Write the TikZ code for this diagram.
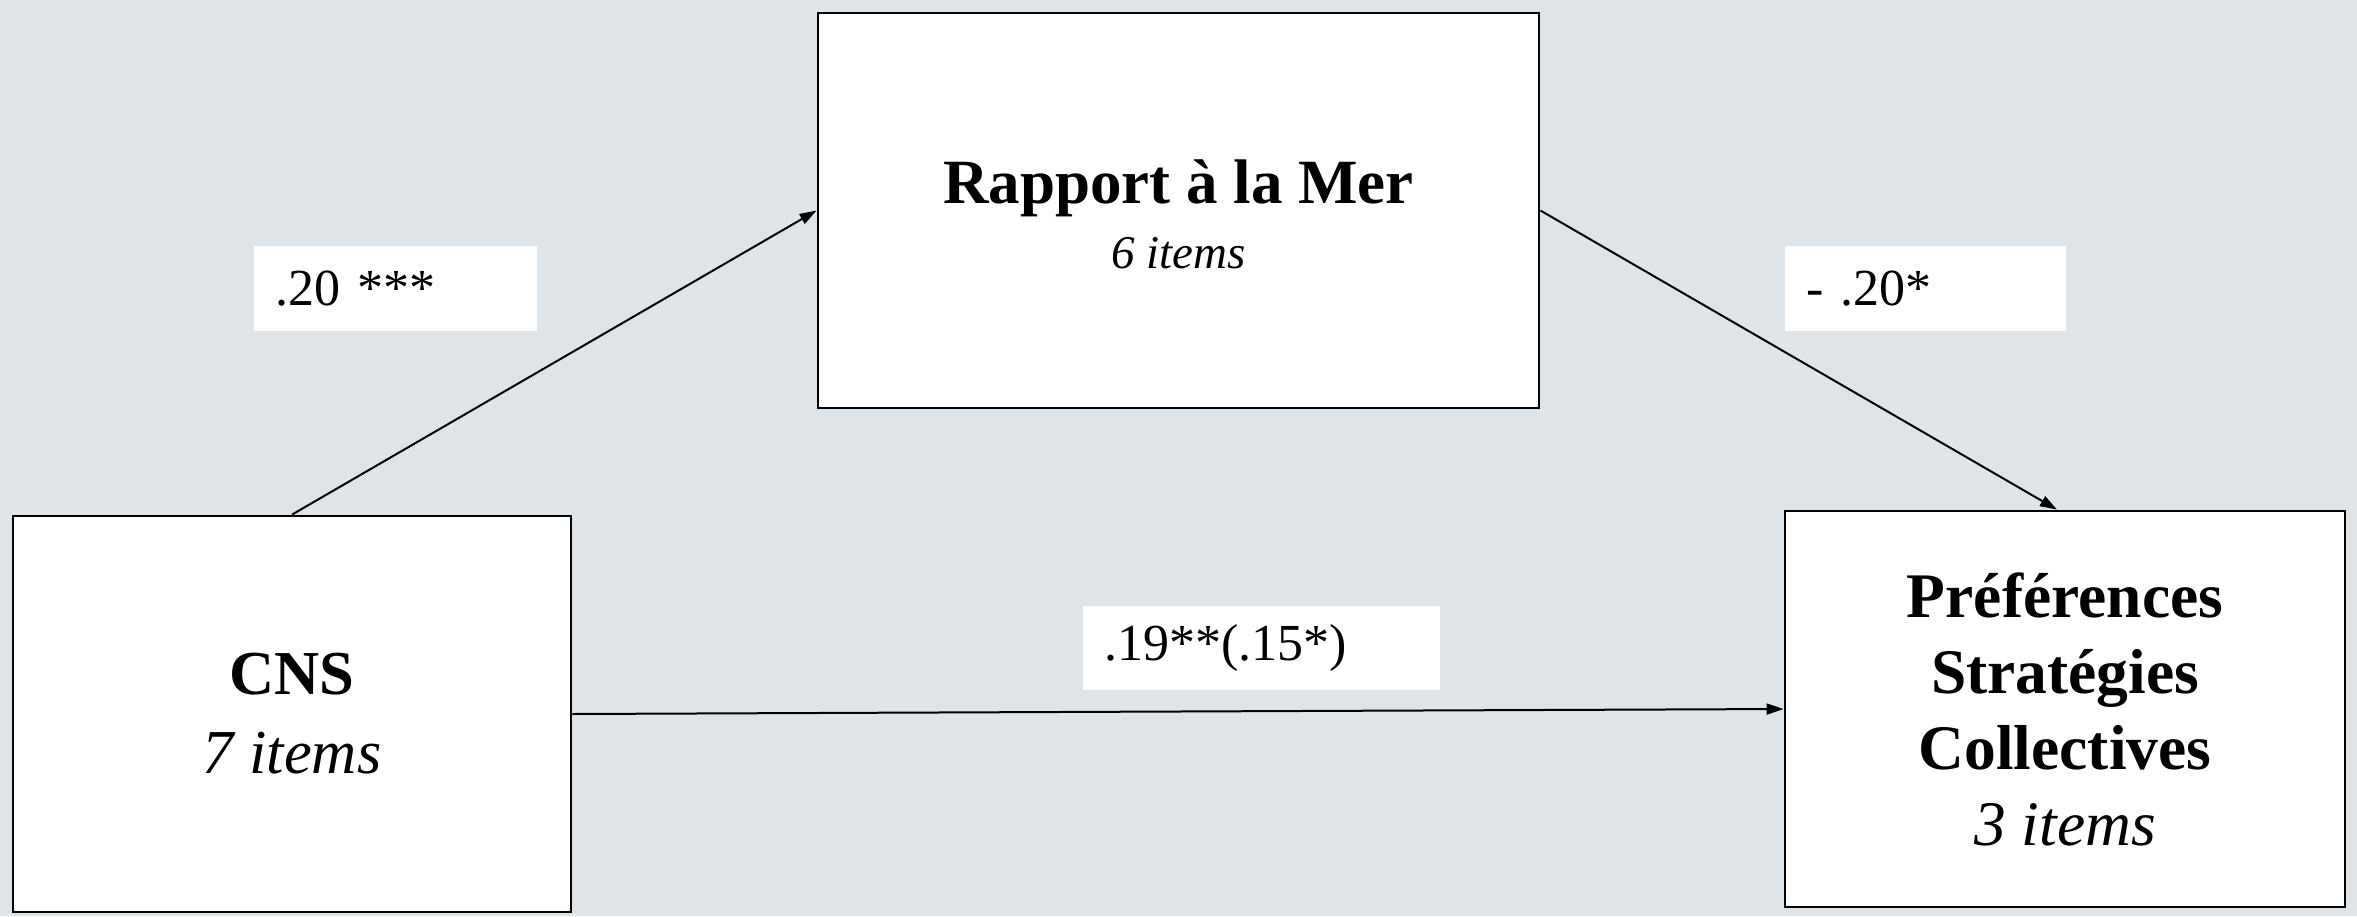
\documentclass[tikz,border=0pt]{standalone}
\usepackage{fontspec}
\setmainfont{Liberation Serif}
\usetikzlibrary{arrows.meta}
\definecolor{bg}{RGB}{223,228,232}
\begin{document}
\begin{tikzpicture}[x=1pt,y=-1pt,
  box/.style={draw=black, line width=2.8pt, fill=white, inner sep=0pt, align=center},
  lab/.style={fill=white, inner xsep=21pt, inner ysep=0pt, align=left, font=\fontsize{52}{60}\selectfont},
  arr/.style={line width=2pt, -{Triangle[length=17pt,width=11pt]}},
]
\fill[bg] (0,0) rectangle (2357,916);
\useasboundingbox (0,0) rectangle (2357,916);

\node[box, minimum width=721pt, minimum height=395pt, font=\fontsize{63}{65}\selectfont] (rap) at (1178.5,210.5)
  {\raisebox{0pt}[\dimexpr\height+8pt\relax]{\textbf{Rapport à la Mer}}\\{\fontsize{47}{65}\selectfont\itshape 6 items}};
\node[box, minimum width=558pt, minimum height=396pt, font=\fontsize{62.5}{79}\selectfont] (cns) at (292,714)
  {\textbf{CNS}\\\textit{7 items}};
\node[box, minimum width=560pt, minimum height=396pt, font=\fontsize{63.5}{76}\selectfont] (pref) at (2065,709)
  {\textbf{Préférences}\\\textbf{Stratégies}\\\textbf{Collectives}\\\textit{3 items}};

\node[lab, minimum width=283pt, minimum height=85pt, text width=241pt] (l1) at (395.5,288.5) {.20 ***};
\node[lab, minimum width=281pt, minimum height=85pt, text width=239pt] (l2) at (1925.5,288.5) {- .20*};
\node[lab, minimum width=357pt, minimum height=84pt, text width=315pt] (l3) at (1261.5,648) {.19**(.15*)};

\draw[arr] (cns.north) -- (rap.west);
\draw[arr] (rap.east) -- ([xshift=-8pt]pref.north);
\draw[arr] (cns.east) -- (pref.west);
\end{tikzpicture}
\end{document}
